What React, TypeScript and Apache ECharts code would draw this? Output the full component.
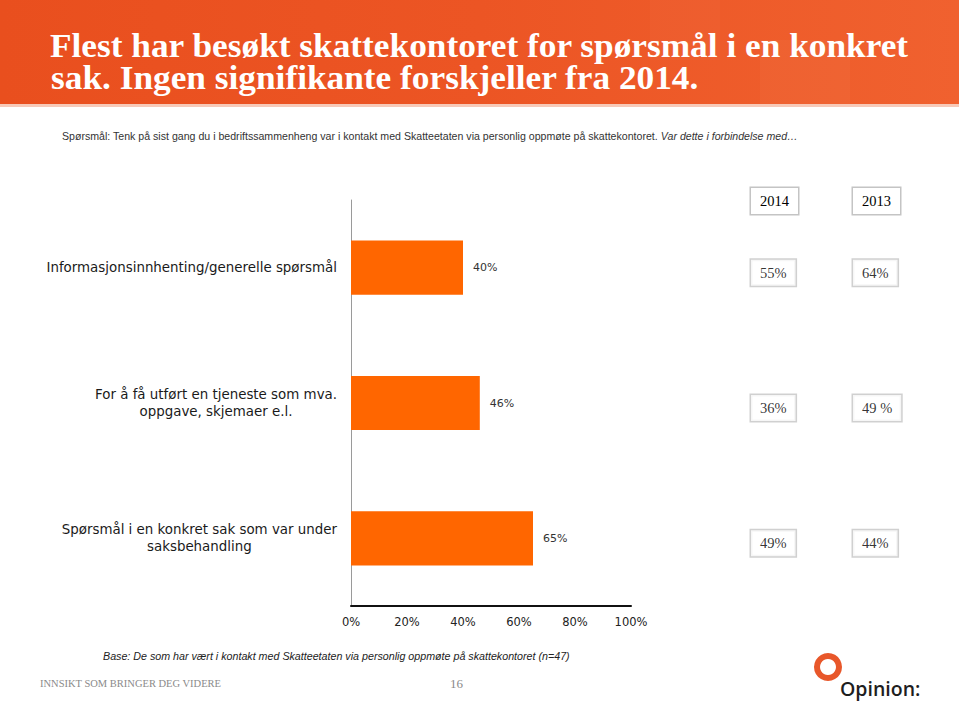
import React, { useEffect, useRef } from 'react';
import * as echarts from 'echarts';

const categories = [
  'Informasjonsinnhenting/generelle spørsmål',
  'For å få utført en tjeneste som mva.\noppgave, skjemaer e.l.',
  'Spørsmål i en konkret sak som var under\nsaksbehandling',
];
const currentValues = [40, 46, 65];
const compareYears = ['2014', '2013'];
const values2014 = ['55%', '36%', '49%'];
const values2013 = ['64%', '49 %', '44%'];
const xMin = 0;
const xMax = 100;
const xInterval = 20;

const titleLines = [
  'Flest har besøkt skattekontoret for spørsmål i en konkret',
  'sak. Ingen signifikante forskjeller fra 2014.',
];
const questionMain = 'Spørsmål: Tenk på sist gang du i bedriftssammenheng var i kontakt med Skatteetaten via personlig oppmøte på skattekontoret.';
const questionTail = ' Var dette i forbindelse med…';
const baseText = 'Base: De som har vært i kontakt med Skatteetaten via personlig oppmøte på skattekontoret (n=47)';
const footerLeft = 'INNSIKT SOM BRINGER DEG VIDERE';
const pageNumber = '16';
const logoText = 'Opinion:';

const SANS = '"Liberation Sans", Arial, sans-serif';
const WIDE = '"DejaVu Sans", "Liberation Sans", sans-serif';
const SERIF = '"Liberation Serif", "Times New Roman", serif';

export default function App() {
  const ref = useRef<HTMLDivElement>(null);

  useEffect(() => {
    document.body.style.margin = '0';
    if (!ref.current) return;
    const chart = echarts.init(ref.current, undefined, { renderer: 'svg' });

    const boxData: any[] = [];
    [values2014, values2013].forEach((arr, j) => {
      arr.forEach((txt, i) => {
        boxData.push({ value: [j, i], text: txt });
      });
    });

    const boxStyle = {
      backgroundColor: '#fff',
      borderColor: '#c4c4c4',
      borderWidth: 1.5,
      padding: [6, 9, 5, 9],
      color: '#000',
      fontFamily: SERIF,
      fontSize: 14.5,
      lineHeight: 15,
    };

    const option: any = {
      animation: false,
      backgroundColor: '#ffffff',
      grid: [
        { left: 351, right: 328, top: 200, bottom: 95 },
        { left: 700, right: 55, top: 200, bottom: 95 },
      ],
      xAxis: [
        {
          gridIndex: 0,
          type: 'value',
          min: xMin,
          max: xMax,
          interval: xInterval,
          axisLine: { show: true, lineStyle: { color: '#111', width: 2 } },
          axisTick: { show: false },
          splitLine: { show: false },
          axisLabel: {
            formatter: '{value}%',
            color: '#222',
            fontSize: 11.5,
            fontFamily: WIDE,
            margin: 10,
          },
        },
        {
          gridIndex: 1,
          type: 'category',
          data: compareYears,
          position: 'top',
          axisLine: { show: false },
          axisTick: { show: false },
          splitLine: { show: false },
          axisLabel: {
            ...boxStyle,
            align: 'left',
            verticalAlign: 'middle',
            margin: -1,
          },
        },
      ],
      yAxis: [
        {
          gridIndex: 0,
          type: 'category',
          data: categories,
          inverse: true,
          axisLine: { show: true, lineStyle: { color: '#9a9a9a', width: 1 } },
          axisTick: { show: false },
          splitLine: { show: false },
          axisLabel: {
            margin: 14,
            formatter: (v: string) => v.split('\n').map((l) => `{c|${l}}`).join('\n'),
            rich: {
              c: {
                align: 'center',
                fontSize: 13.4,
                lineHeight: 17,
                color: '#1a1a1a',
                fontFamily: WIDE,
              },
            },
          },
        },
        {
          gridIndex: 1,
          type: 'category',
          data: categories,
          inverse: true,
          show: false,
        },
      ],
      series: [
        {
          type: 'bar',
          xAxisIndex: 0,
          yAxisIndex: 0,
          data: currentValues,
          barWidth: '40%',
          itemStyle: { color: '#FF6600' },
          label: {
            show: true,
            position: 'right',
            distance: 10,
            formatter: '{c}%',
            color: '#333',
            fontSize: 11,
            fontFamily: WIDE,
          },
        },
        {
          type: 'scatter',
          xAxisIndex: 1,
          yAxisIndex: 1,
          data: boxData,
          symbolSize: 1,
          itemStyle: { color: 'rgba(0,0,0,0)' },
          label: {
            show: true,
            position: 'inside',
            align: 'left',
            verticalAlign: 'middle',
            offset: [0, 5],
            formatter: (p: any) => p.data.text,
            ...boxStyle,
          },
        },
      ],
      graphic: [
        {
          type: 'rect',
          left: 0,
          top: 0,
          shape: { width: 959, height: 104 },
          style: {
            fill: new echarts.graphic.LinearGradient(0, 0, 1, 0, [
              { offset: 0, color: '#E94F1E' },
              { offset: 0.5, color: '#EC5524' },
              { offset: 1, color: '#F0612F' },
            ]),
          },
          z: -10,
        },
        {
          type: 'rect',
          shape: { x: 650, y: 0, width: 70, height: 60 },
          style: { fill: 'rgba(255,255,255,0.025)' },
          z: -9,
        },
        {
          type: 'rect',
          shape: { x: 760, y: 40, width: 90, height: 64 },
          style: { fill: 'rgba(255,255,255,0.03)' },
          z: -9,
        },
        {
          type: 'rect',
          shape: { x: 0, y: 104, width: 959, height: 3 },
          style: { fill: '#F7C9B8' },
          z: -9,
        },
        {
          type: 'text',
          x: 50,
          y: 46,
          scaleX: 1.07,
          style: {
            text: titleLines[0],
            fill: '#ffffff',
            font: `bold 33px ${SERIF}`,
            verticalAlign: 'middle',
          },
        },
        {
          type: 'text',
          x: 51,
          y: 78,
          scaleX: 1.07,
          style: {
            text: titleLines[1],
            fill: '#ffffff',
            font: `bold 33px ${SERIF}`,
            verticalAlign: 'middle',
          },
        },
        {
          type: 'text',
          x: 62,
          y: 136,
          style: {
            rich: {
              a: { fontFamily: SANS, fontSize: 10.6, fill: '#333' },
              b: { fontFamily: SANS, fontSize: 10.6, fontStyle: 'italic', fill: '#333' },
            },
            text: `{a|${questionMain}}{b|${questionTail}}`,
            verticalAlign: 'middle',
          },
        },
        {
          type: 'text',
          x: 103,
          y: 656,
          style: {
            text: baseText,
            fill: '#222',
            font: `italic 10.7px ${SANS}`,
            verticalAlign: 'middle',
          },
        },
        {
          type: 'text',
          x: 40,
          y: 683,
          style: {
            text: footerLeft,
            fill: '#8a8a8a',
            font: `10.5px ${SERIF}`,
            verticalAlign: 'middle',
          },
        },
        {
          type: 'text',
          x: 450,
          y: 683,
          style: {
            text: pageNumber,
            fill: '#8a8a8a',
            font: `13px ${SERIF}`,
            verticalAlign: 'middle',
          },
        },
        {
          type: 'ring',
          shape: { cx: 828, cy: 667, r: 14, r0: 8 },
          style: { fill: '#E8572A' },
        },
        {
          type: 'text',
          x: 840,
          y: 688,
          style: {
            text: logoText,
            fill: '#1e1e1e',
            font: `600 19.5px "Open Sans", sans-serif`,
            verticalAlign: 'middle',
          },
        },
      ],
    };

    chart.setOption(option);
    return () => chart.dispose();
  }, []);

  return <div ref={ref} style={{ width: 959, height: 701 }} />;
}
